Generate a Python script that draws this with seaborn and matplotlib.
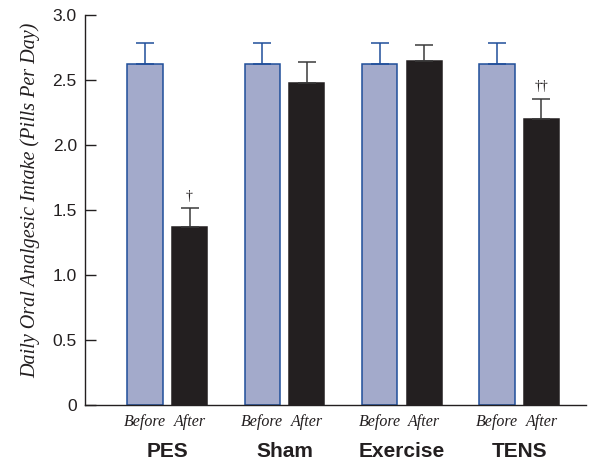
import numpy as np
import pandas as pd
import matplotlib
matplotlib.use("Agg")
import matplotlib.pyplot as plt
import seaborn as sns

groups = ["PES", "Sham", "Exercise", "TENS"]
phases = ["Before", "After"]
before_means = [2.63, 2.63, 2.63, 2.63]
after_means = [1.37, 2.48, 2.65, 2.20]
before_err = [0.155, 0.155, 0.155, 0.155]
after_err = [0.145, 0.165, 0.125, 0.16]
markers = ["†", "", "", "††"]

df = pd.DataFrame({
    "group": groups * 2,
    "phase": ["Before"] * 4 + ["After"] * 4,
    "value": before_means + after_means,
})
errs = {"Before": before_err, "After": after_err}

sns.set_style("ticks", {"ytick.direction": "in", "ytick.left": True})
fig = plt.figure(figsize=(5.95, 4.62), dpi=100)
ax = fig.add_axes([0.143, 0.123, 0.842, 0.8435])

before_c = "#A3AACB"
before_edge = "#1F4E9A"
after_c = "#231F20"

sns.barplot(data=df, x="group", y="value", hue="phase", order=groups,
            hue_order=phases, palette=[before_c, after_c], width=0.76,
            gap=0.21, errorbar=None, ax=ax, legend=False, saturation=1)

edge_cols = {"Before": before_edge, "After": after_c}
err_cols = {"Before": before_edge, "After": "#3a3a3a"}
for cont, ph in zip(ax.containers, phases):
    xs, tops = [], []
    for p in cont.patches:
        p.set_edgecolor(edge_cols[ph])
        p.set_linewidth(1.1)
        xs.append(p.get_x() + p.get_width() / 2)
        tops.append(p.get_height())
    ax.errorbar(xs, tops, yerr=[np.zeros(len(xs)), errs[ph]], fmt="none",
                ecolor=err_cols[ph], elinewidth=1.1, capsize=6.8,
                capthick=1.1, zorder=1)
    if ph == "After":
        for x, t, e, m in zip(xs, tops, errs[ph], markers):
            if m:
                ax.text(x, t + e + 0.04, m, ha="center", va="bottom",
                        fontsize=10, family="Liberation Serif", color="#231F20")
    for x in xs:
        ax.text(x, -0.13, ph, ha="center", va="center", fontsize=11.5,
                family="Liberation Serif", style="italic", color="#231F20")

for i, g in enumerate(groups):
    ax.text(i, -0.36, g, ha="center", va="center", fontsize=15,
            family="Liberation Sans", weight="bold", color="#231F20")

ax.set_xlim(-0.70, 3.57)
ax.set_ylim(0, 3.0)
ax.set_xticks([])
ax.set_xlabel("")
yt = [0, 0.5, 1.0, 1.5, 2.0, 2.5, 3.0]
ax.set_yticks(yt)
ax.set_yticklabels(["0", "0.5", "1.0", "1.5", "2.0", "2.5", "3.0"],
                   family="Liberation Sans", fontsize=12.5, color="#231F20")
ax.tick_params(axis="y", which="major", direction="in", length=8, width=1.0,
               color="#231F20", pad=6, left=True)
ax.set_ylabel("Daily Oral Analgesic Intake (Pills Per Day)",
              family="Liberation Serif", style="italic", fontsize=14.5,
              color="#231F20")
ax.yaxis.set_label_coords(-0.09, 0.525)
for s in ["top", "right"]:
    ax.spines[s].set_visible(False)
for s in ["left", "bottom"]:
    ax.spines[s].set_color("#231F20")
    ax.spines[s].set_linewidth(1.0)

fig.savefig("out.png", dpi=100)
